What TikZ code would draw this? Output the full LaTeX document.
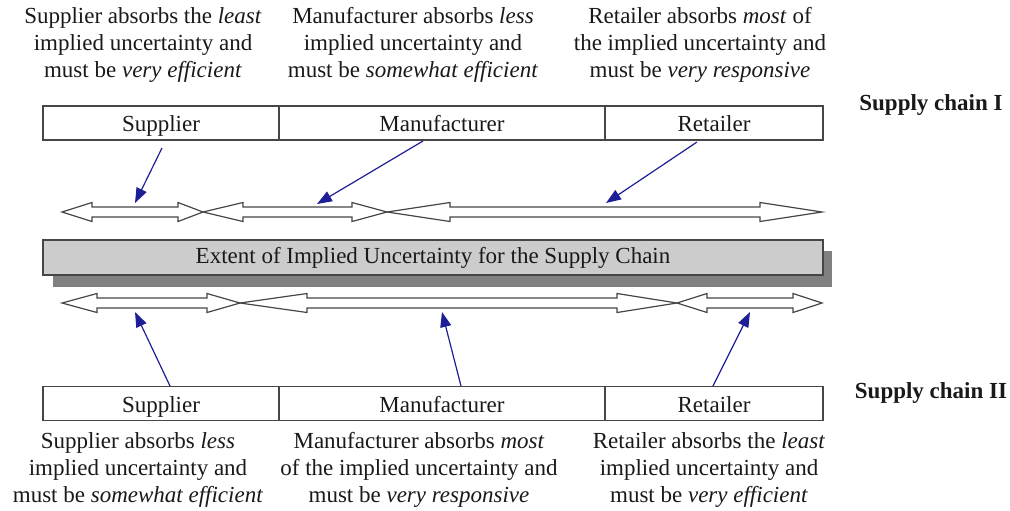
\documentclass[tikz,border=0pt]{standalone}
\usepackage{fontspec}
\setmainfont{Liberation Serif}
\usetikzlibrary{arrows.meta}
\definecolor{pointer}{RGB}{30,30,150}
\definecolor{edge}{RGB}{70,70,70}
\definecolor{barfill}{RGB}{204,204,204}
\definecolor{barshadow}{RGB}{128,128,128}
\definecolor{ink}{RGB}{25,25,25}

% double-headed block arrow: x1, x2, y, left head length, right head length
\newcommand\bidir[5]{%
  \filldraw[fill=white, draw=edge, line width=0.6pt, line join=miter]
    (#1,#3) -- (#1+#4,#3-9.5) -- (#1+#4,#3-5) -- (#2-#5,#3-5) -- (#2-#5,#3-9.5)
    -- (#2,#3) -- (#2-#5,#3+9.5) -- (#2-#5,#3+5) -- (#1+#4,#3+5) -- (#1+#4,#3+9.5) -- cycle;}

\begin{document}
\begin{tikzpicture}[x=0.5pt,y=-0.5pt,
  every node/.style={font=\fontsize{11.5}{13.5}\selectfont, text=ink, inner sep=0pt},
  stage/.style={draw=edge, line width=0.7pt, minimum height=17pt, text height=10pt, text depth=1.5pt},
  note/.style={align=center},
  chainlabel/.style={font=\fontsize{11.5}{13.5}\selectfont\bfseries},
  pointerarrow/.style={draw=pointer, line width=0.6pt, -{Triangle[length=7.5pt,width=5.5pt]}}]
\useasboundingbox (0,0) rectangle (1010,510);

% upper chain: explanations
\node[note] (t1) at (143,45) {Supplier absorbs the \textit{least}\\implied uncertainty and\\must be \textit{very efficient}};
\node[note] (t2) at (413,45) {Manufacturer absorbs \textit{less}\\implied uncertainty and\\must be \textit{somewhat efficient}};
\node[note] (t3) at (700,45) {Retailer absorbs \textit{most} of\\the implied uncertainty and\\must be \textit{very responsive}};

% upper chain: stages
\node[stage, minimum width=118pt] (s1) at (161,123) {Supplier};
\node[stage, minimum width=163pt] (m1) at (442,123) {Manufacturer};
\node[stage, minimum width=109pt] (r1) at (714,123) {Retailer};
\node[chainlabel] (c1) at (931,105) {Supply chain I};

% upper extent arrows
\bidir{62}{203}{212}{30}{25}
\bidir{203}{387}{212}{40}{35}
\bidir{387}{822}{212}{63}{62}

% central bar with shadow
\fill[barshadow] (53,251) rectangle (832,287);
\node[draw=edge, fill=barfill, line width=0.7pt, minimum width=390pt, minimum height=17.5pt] (bar) at (433,257.5)
  {Extent of Implied Uncertainty for the Supply Chain};

% lower extent arrows
\bidir{62}{240}{303}{35}{33}
\bidir{240}{677}{303}{67}{60}
\bidir{677}{822}{303}{30}{29}

% lower chain: stages
\node[stage, minimum width=118pt] (s2) at (161,403.5) {Supplier};
\node[stage, minimum width=163pt] (m2) at (442,403.5) {Manufacturer};
\node[stage, minimum width=109pt] (r2) at (714,403.5) {Retailer};
\node[chainlabel] (c2) at (931,393) {Supply chain II};

% lower chain: explanations
\node[note] (b1) at (138,470) {Supplier absorbs \textit{less}\\implied uncertainty and\\must be \textit{somewhat efficient}};
\node[note] (b2) at (419,470) {Manufacturer absorbs \textit{most}\\of the implied uncertainty and\\must be \textit{very responsive}};
\node[note] (b3) at (709,470) {Retailer absorbs the \textit{least}\\implied uncertainty and\\must be \textit{very efficient}};

% pointer ends
\coordinate (p1s) at (162,148); \coordinate (p1e) at (135,203);
\coordinate (p2s) at (423,141); \coordinate (p2e) at (317,204);
\coordinate (p3s) at (697,142); \coordinate (p3e) at (606,203);
\coordinate (q1s) at (170,386); \coordinate (q1e) at (135,312);
\coordinate (q2s) at (461,386); \coordinate (q2e) at (442,312);
\coordinate (q3s) at (713,386); \coordinate (q3e) at (750,312);

\draw[pointerarrow] (p1s) -- (p1e);
\draw[pointerarrow] (p2s) -- (p2e);
\draw[pointerarrow] (p3s) -- (p3e);
\draw[pointerarrow] (q1s) -- (q1e);
\draw[pointerarrow] (q2s) -- (q2e);
\draw[pointerarrow] (q3s) -- (q3e);
\end{tikzpicture}
\end{document}
